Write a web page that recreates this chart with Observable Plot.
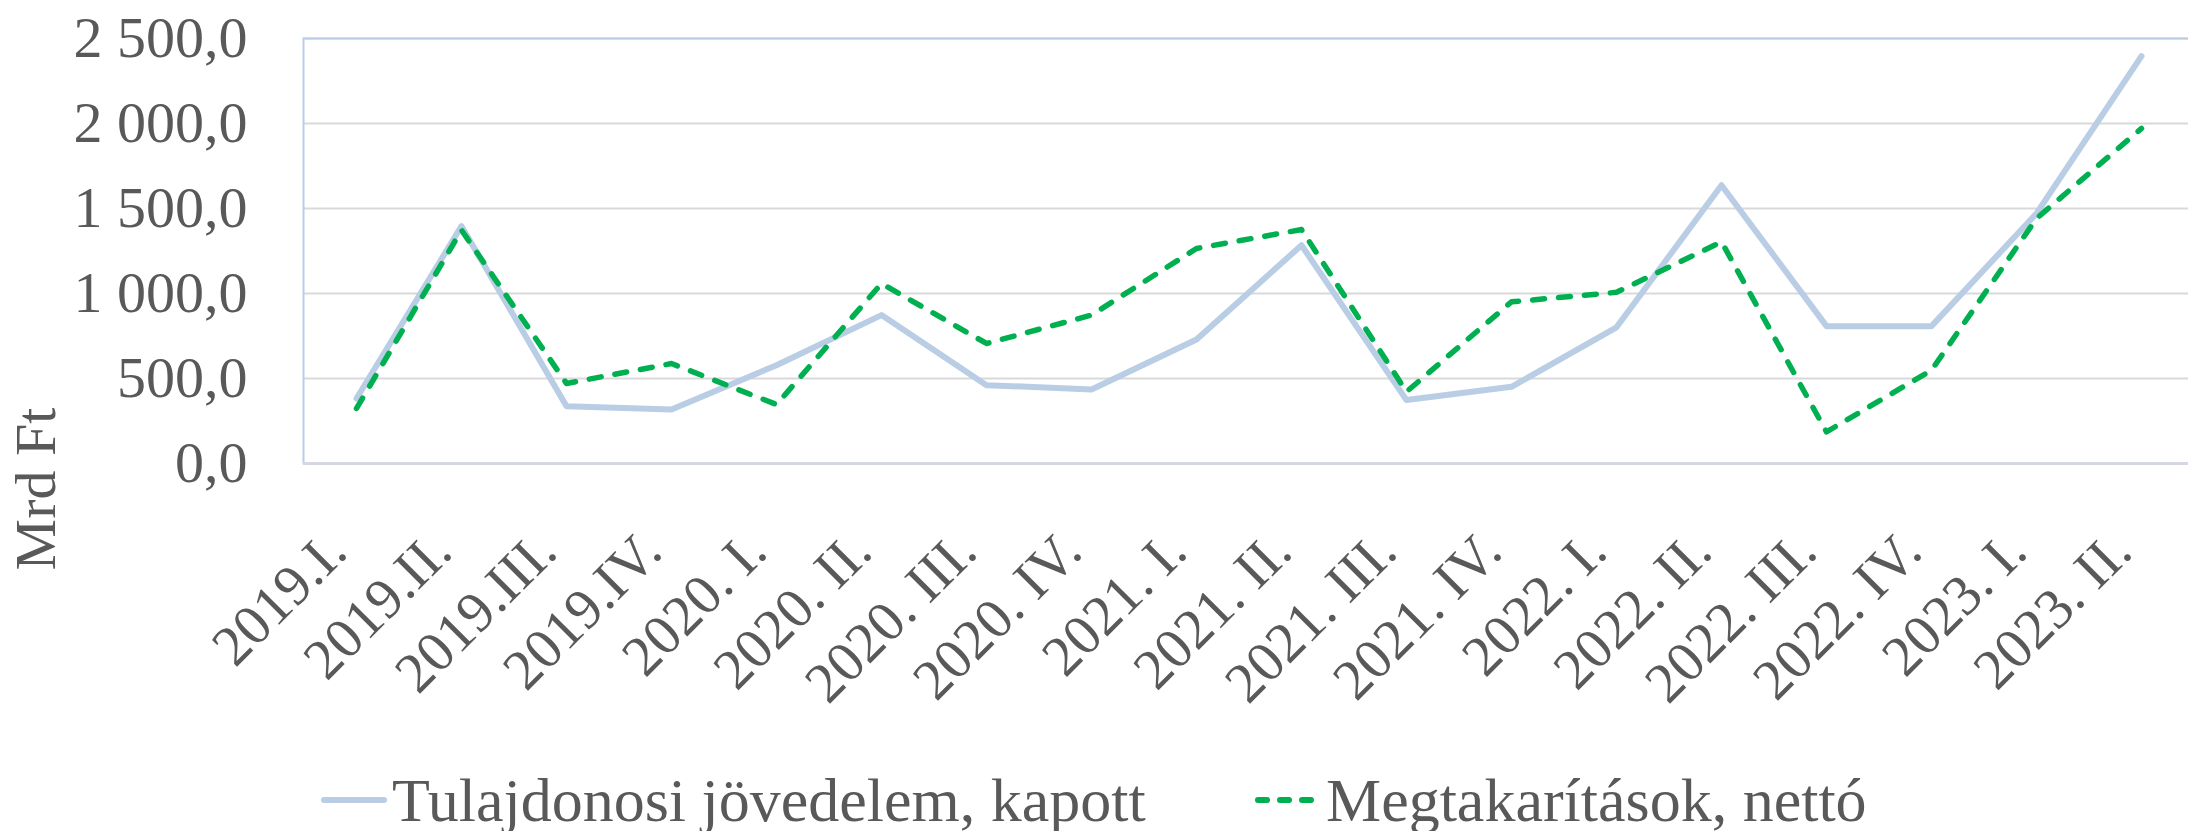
<!DOCTYPE html>
<html>
<head>
<meta charset="utf-8">
<script src="https://cdn.jsdelivr.net/npm/d3@7"></script>
<script src="https://cdn.jsdelivr.net/npm/@observablehq/plot@0.6"></script>
<style>
html, body { margin: 0; padding: 0; background: #fff; overflow: hidden; }
#wrap { position: relative; width: 2188px; height: 831px; font-family: "Liberation Serif", serif; color: #595959; }
#chart { position: absolute; left: 0; top: 0; }
#ytitle { position: absolute; left: 36px; top: 489px; transform: translate(-50%, -50%) rotate(-90deg); font-size: 58px; white-space: nowrap; line-height: 1; }
.leg { position: absolute; top: 800px; display: flex; align-items: center; transform: translateY(-50%); font-size: 62px; white-space: nowrap; line-height: 1; }
.leg svg { margin-right: 5px; }
</style>
</head>
<body>
<div id="wrap">
  <div id="chart"></div>
  <div id="ytitle"></div>
  <div class="leg" id="leg1" style="left:321px"></div>
  <div class="leg" id="leg2" style="left:1255px"></div>
</div>
<script>
const categories = ["2019.I.", "2019.II.", "2019.III.", "2019.IV.", "2020. I.", "2020. II.", "2020. III.", "2020. IV.", "2021. I.", "2021. II.", "2021. III.", "2021. IV.", "2022. I.", "2022. II.", "2022. III.", "2022. IV.", "2023. I.", "2023. II."];
const tulajdonosi = [382, 1396, 337, 318, 578, 873, 461, 435, 729, 1284, 373, 451, 801, 1637, 808, 808, 1471, 2396];
const megtakaritasok = [324, 1373, 471, 588, 347, 1059, 706, 873, 1265, 1376, 422, 951, 1007, 1304, 186, 549, 1441, 1971];
const yTicks = [0, 500, 1000, 1500, 2000, 2500];
const seriesNames = ["Tulajdonosi jövedelem, kapott", "Megtakarítások, nettó"];
const yTitle = "Mrd Ft";

const colSolid = "#b9cde5";
const colDash = "#00b050";
const huLocale = d3.formatLocale({decimal: ",", thousands: " ", grouping: [3], currency: ["", " Ft"]});
const fmt = huLocale.format(",.1f");

const chart = Plot.plot({
  width: 2188,
  height: 740,
  marginLeft: 303,
  marginRight: -6,
  marginTop: 38,
  marginBottom: 277,
  style: { fontFamily: "Liberation Serif", color: "#595959", background: "white", overflow: "visible" },
  x: { type: "point", domain: categories, padding: 0.5, axis: null },
  y: { domain: [0, 2500] },
  marks: [
    Plot.gridY(yTicks, { stroke: "#d9d9d9", strokeOpacity: 1, strokeWidth: 2 }),
    Plot.frame({ stroke: colSolid, strokeWidth: 2 }),
    Plot.ruleY([0], { stroke: "#d3d8e2", strokeWidth: 3 }),
    Plot.line(tulajdonosi, { x: (d, i) => categories[i], y: d => d, stroke: colSolid, strokeWidth: 6, strokeLinejoin: "round", strokeLinecap: "round" }),
    Plot.line(megtakaritasok, { x: (d, i) => categories[i], y: d => d, stroke: colDash, strokeWidth: 5.5, strokeDasharray: "12,14", strokeLinejoin: "round", strokeLinecap: "round" }),
    Plot.axisY(yTicks, { tickSize: 0, tickPadding: 56, tickFormat: fmt, fontSize: 58, label: null }),
    Plot.text(categories, { x: d => d, frameAnchor: "bottom", dx: -20, dy: 78, rotate: -45, textAnchor: "end", lineAnchor: "middle", fontSize: 57, fill: "#595959" })
  ]
});
document.getElementById("chart").appendChild(chart);
document.getElementById("ytitle").textContent = yTitle;

function swatch(dashed) {
  const ns = "http://www.w3.org/2000/svg";
  const s = document.createElementNS(ns, "svg");
  s.setAttribute("width", 66); s.setAttribute("height", 14);
  const l = document.createElementNS(ns, "line");
  l.setAttribute("x1", 3); l.setAttribute("x2", 63); l.setAttribute("y1", 7); l.setAttribute("y2", 7);
  l.setAttribute("stroke", dashed ? colDash : colSolid);
  l.setAttribute("stroke-width", 6);
  l.setAttribute("stroke-linecap", "round");
  if (dashed) l.setAttribute("stroke-dasharray", "9,13");
  s.appendChild(l);
  return s;
}
[["leg1", false], ["leg2", true]].forEach(([id, dashed], k) => {
  const el = document.getElementById(id);
  el.appendChild(swatch(dashed));
  const t = document.createElement("span");
  t.textContent = seriesNames[k];
  el.appendChild(t);
});
</script>
</body>
</html>
